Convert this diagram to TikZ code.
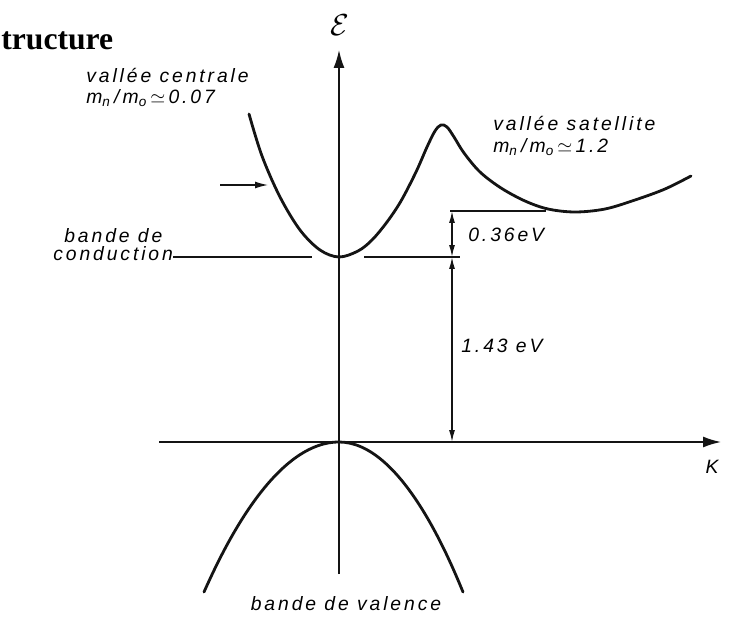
\documentclass[tikz,border=0pt]{standalone}
\usepackage{fontspec}
\usepackage{xcolor}
\usetikzlibrary{arrows.meta}
\newfontfamily\hand{Liberation Sans}[LetterSpace=15]
\newfontfamily\titre{Liberation Serif}
\definecolor{ink}{HTML}{141414}
\tikzset{
  band/.style={ink, line width=1.6pt, line cap=round},
  axe/.style={ink, line width=0.9pt, -{Latex[length=3.6mm,width=2.2mm]}},
  niveau/.style={ink, line width=0.7pt},
  cote/.style={ink, line width=0.8pt, {Latex[length=2.4mm,width=1.2mm]}-{Latex[length=2.4mm,width=1.2mm]}},
  lbl/.style={font=\hand\itshape\fontsize{11}{13}\selectfont, inner sep=0, anchor=base west}
}

\begin{document}
\begin{tikzpicture}[x=0.02cm, y=-0.02cm]
\useasboundingbox (0,0) rectangle (736,638);
\node[font=\titre\bfseries\fontsize{18}{21}\selectfont, anchor=base west, inner sep=0] (titre) at (1,50) {tructure};

\coordinate (O) at (339,442);
\coordinate (Ebas) at (339,574);
\coordinate (Ehaut) at (339,50);
\coordinate (Kg) at (159,442);
\coordinate (Kd) at (721,442);
\draw[axe] (Ebas) -- (Ehaut);
\draw[axe] (Kg) -- (Kd);
\node[font=\fontsize{19}{20}\selectfont, inner sep=0] (eps) at (340,25) {$\mathcal{E}$};
\node[lbl, anchor=center] (k) at (712,467) {K};

\draw[band] plot[smooth, tension=0.55] coordinates {(249,114) (262,156) (280,197) (300,230) (320,250) (339,257)
  (358,251) (372,240) (387,222) (401,201) (416,172) (427,147) (435,131) (441,125) (447,127) (454,137)
  (464,153) (480,172) (501,188) (525,201) (548,209) (575,212) (605,209) (635,200) (665,189) (691,176)};
\draw[band] (204,592) parabola bend (O) (463,592);

\node[lbl] (vc1) at (86,83) {vallée centrale};
\node[lbl] (vc2) at (86,104) {m\textsubscript{n}\,/\,m\textsubscript{o}\,$\simeq$\,0.07};
\node[lbl] (vs1) at (493,131) {vallée satellite};
\node[lbl] (vs2) at (493,153) {m\textsubscript{n}\,/\,m\textsubscript{o}\,$\simeq$\,1.2};
\node[lbl] (bc1) at (64,243) {bande de};
\node[lbl] (bc2) at (53,260) {conduction};
\node[lbl, anchor=base] (bv) at (346,610) {bande de valence};

\coordinate (fl) at (220,185);
\coordinate (fl2) at (268,185);
\draw[ink, line width=0.8pt, -{Latex[length=2.6mm,width=1.4mm]}] (fl) -- (fl2);

\coordinate (Cg) at (312,257);
\coordinate (Cd1) at (364,257);
\coordinate (Cd2) at (460,257);
\coordinate (Sg) at (450,211);
\coordinate (Smin) at (546,211);
\draw[niveau] (bc2.east |- Cg) -- (Cg);
\draw[niveau] (Cd1) -- (Cd2);
\draw[niveau] (Sg) -- (Smin);

\coordinate (d1) at (452,211);
\coordinate (d2) at (452,257);
\draw[cote] (d1) -- (d2);
\draw[cote] (d2) -- (d2 |- O);
\node[lbl] (e1) at (468,242) {0.36eV};
\node[lbl] (e2) at (461,352) {1.43 eV};
\end{tikzpicture}
\end{document}
